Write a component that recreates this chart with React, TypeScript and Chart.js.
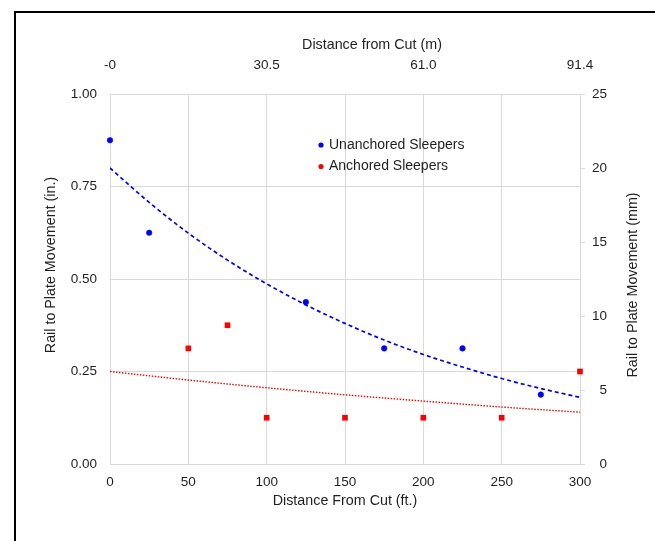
import React, { useEffect, useRef } from "react";
import { Chart, registerables } from "chart.js";

Chart.register(...registerables);

// ---- data ----
const seriesNames = ["Unanchored Sleepers", "Anchored Sleepers"];
const unanchoredX = [0, 25, 125, 175, 225, 275];
const unanchoredY = [0.875, 0.625, 0.4375, 0.3125, 0.3125, 0.1875];
const anchoredX = [50, 75, 100, 150, 200, 250, 300];
const anchoredY = [0.3125, 0.375, 0.125, 0.125, 0.125, 0.125, 0.25];

// trendlines
const unanchoredTrendX = [0, 25, 50, 75, 100, 125, 150, 175, 200, 225, 250, 275, 300];
const unanchoredTrendY = [0.8, 0.707, 0.624, 0.551, 0.487, 0.43, 0.38, 0.335, 0.296, 0.262, 0.231, 0.204, 0.18];
const anchoredTrendX = [0, 50, 100, 150, 200, 250, 300];
const anchoredTrendY = [0.25, 0.227, 0.206, 0.187, 0.17, 0.154, 0.14];

const topTickLabels = ["-0", "30.5", "61.0", "91.4"];
const titleBottom = "Distance From Cut (ft.)";
const titleTop = "Distance from Cut (m)";
const titleLeft = "Rail to Plate Movement (in.)";
const titleRight = "Rail to Plate Movement (mm)";

const FONT = '"Liberation Sans", Arial, sans-serif';
const TEXT = "#1f1f1f";
const GRID = "#d9d9d9";

const zip = (xs: number[], ys: number[]) => xs.map((x, i) => ({ x, y: ys[i] }));

const overlay = {
  id: "overlay",
  beforeDraw(chart: any) {
    const ctx = chart.ctx;
    ctx.save();
    ctx.fillStyle = "#ffffff";
    ctx.fillRect(0, 0, chart.width, chart.height);
    ctx.restore();
  },
  afterDraw(chart: any) {
    const ctx = chart.ctx;
    const a = chart.chartArea;
    ctx.save();
    // outer frame
    ctx.fillStyle = "#000";
    ctx.fillRect(14, 11, 2, chart.height);
    ctx.fillRect(14, 11, chart.width, 2);
    // axis titles
    ctx.fillStyle = TEXT;
    ctx.font = `14.3px ${FONT}`;
    ctx.textAlign = "center";
    ctx.textBaseline = "middle";
    ctx.fillText(titleTop, 372, 45);
    ctx.fillText(titleBottom, (a.left + a.right) / 2, 501);
    ctx.save();
    ctx.translate(51, 265);
    ctx.rotate(-Math.PI / 2);
    ctx.fillText(titleLeft, 0, 0);
    ctx.restore();
    ctx.save();
    ctx.translate(633, 285);
    ctx.rotate(-Math.PI / 2);
    ctx.fillText(titleRight, 0, 0);
    ctx.restore();
    // legend
    const colors = ["#0000ff", "#ff0000"];
    ctx.font = `14px ${FONT}`;
    ctx.textAlign = "left";
    seriesNames.forEach((name, i) => {
      const y = 145 + i * 21.5;
      ctx.fillStyle = colors[i];
      ctx.beginPath();
      ctx.arc(321, y, 2.6, 0, Math.PI * 2);
      ctx.fill();
      ctx.fillStyle = TEXT;
      ctx.fillText(name, 329, y);
    });
    ctx.restore();
  },
};

export default function App() {
  const ref = useRef<HTMLCanvasElement | null>(null);
  useEffect(() => {
    if (!ref.current) return;
    const tickFont = { family: FONT, size: 13.5 };
    const chart = new Chart(ref.current, {
      type: "scatter",
      data: {
        datasets: [
          {
            label: seriesNames[0],
            data: zip(unanchoredX, unanchoredY),
            backgroundColor: "#0000ff",
            borderColor: "#0000ff",
            pointStyle: "circle",
            pointRadius: 2.8,
            borderWidth: 0.5,
            showLine: false,
            clip: false,
          },
          {
            label: seriesNames[1],
            data: zip(anchoredX, anchoredY),
            backgroundColor: "#ff0000",
            borderColor: "#ff0000",
            pointStyle: "rect",
            pointRadius: 4,
            borderWidth: 0,
            showLine: false,
            clip: false,
          },
          {
            label: "unanchored trend",
            data: zip(unanchoredTrendX, unanchoredTrendY),
            borderColor: "#0000ff",
            borderWidth: 1.7,
            borderDash: [4, 3],
            pointRadius: 0,
            showLine: true,
            cubicInterpolationMode: "monotone",
          },
          {
            label: "anchored trend",
            data: zip(anchoredTrendX, anchoredTrendY),
            borderColor: "#ff0000",
            borderWidth: 1.4,
            borderDash: [1.5, 1.5],
            pointRadius: 0,
            showLine: true,
            cubicInterpolationMode: "monotone",
          },
        ],
      } as any,
      options: {
        responsive: false,
        animation: false,
        devicePixelRatio: 1,
        events: [],
        layout: { padding: { left: 0, right: 48, top: 0, bottom: 0 } },
        plugins: { legend: { display: false }, tooltip: { enabled: false } },
        scales: {
          x: {
            type: "linear",
            position: "bottom",
            min: 0,
            max: 300,
            ticks: { stepSize: 50, font: tickFont, color: TEXT, padding: 10, maxRotation: 0 },
            grid: { color: GRID, drawTicks: false },
            border: { color: GRID },
            afterFit: (s: any) => { s.height = 77; },
          },
          x2: {
            type: "linear",
            position: "top",
            min: 0,
            max: 300,
            ticks: {
              stepSize: 100,
              font: tickFont,
              color: TEXT,
              padding: 21,
              maxRotation: 0,
              callback: (_v: any, i: number) => topTickLabels[i],
            },
            grid: { display: false, drawTicks: false },
            border: { display: false },
            afterFit: (s: any) => { s.height = 94; },
          },
          y: {
            type: "linear",
            position: "left",
            min: 0,
            max: 1,
            ticks: {
              stepSize: 0.25,
              font: tickFont,
              color: TEXT,
              padding: 13,
              callback: (v: any) => Number(v).toFixed(2),
            },
            grid: { color: GRID, drawTicks: false },
            border: { color: GRID },
            afterFit: (s: any) => { s.width = 110; },
          },
          y2: {
            type: "linear",
            position: "right",
            min: 0,
            max: 25,
            ticks: { stepSize: 5, font: tickFont, color: TEXT, padding: 7, crossAlign: "far" },
            grid: { drawOnChartArea: false, drawTicks: true, tickLength: 5, color: GRID },
            border: { color: GRID },
            afterFit: (s: any) => { s.width = 27; },
          },
        },
      } as any,
      plugins: [overlay],
    });
    return () => chart.destroy();
  }, []);
  return (
    <div style={{ position: "absolute", left: 0, top: 0, width: 655, height: 541 }}>
      <canvas ref={ref} width={655} height={541} style={{ display: "block" }} />
    </div>
  );
}
